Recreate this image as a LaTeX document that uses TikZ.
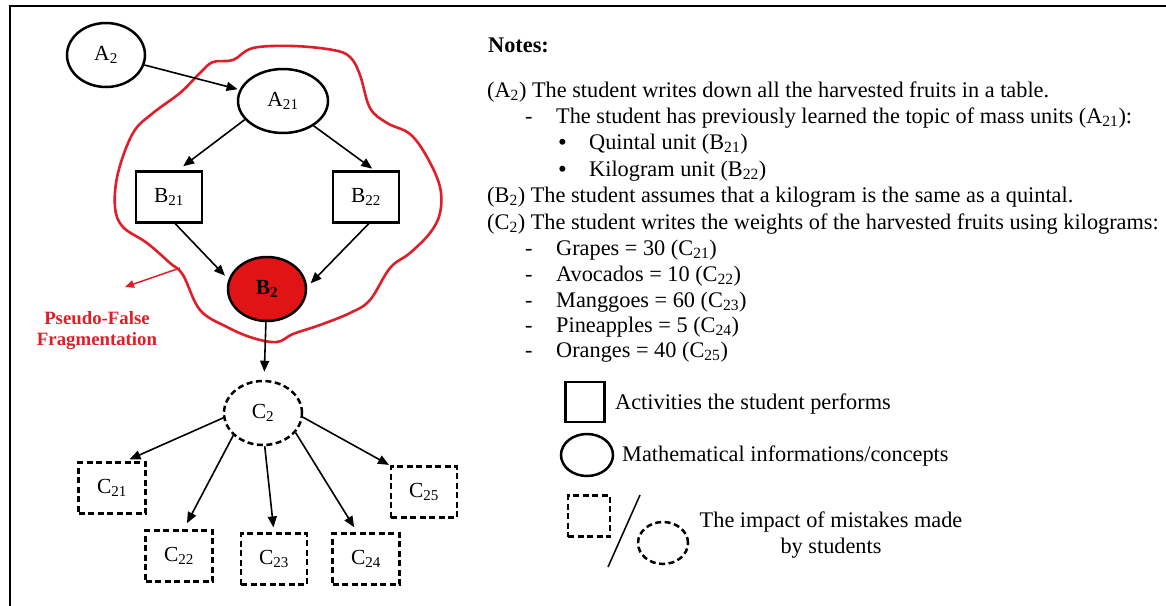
\documentclass[tikz,border=0pt]{standalone}
\usepackage{fontspec}
\setmainfont{Liberation Serif}
\usetikzlibrary{arrows.meta,shapes.geometric}
\definecolor{myred}{RGB}{224,20,20}
\definecolor{cloudred}{RGB}{222,30,40}
\newcommand\sbs[1]{\textsubscript{#1}}
\begin{document}
\begin{tikzpicture}[x=1pt,y=-1pt,
  every node/.style={font=\fontsize{21.5}{24}\selectfont},
  oval/.style={ellipse, draw, line width=2.5pt, minimum width=78pt, minimum height=64pt, inner sep=0pt},
  box/.style={rectangle, draw, line width=2.2pt, minimum width=66pt, minimum height=51pt, inner sep=0pt},
  dbox/.style={box, dash pattern=on 6pt off 3.5pt},
  doval/.style={oval, dash pattern=on 6pt off 3.5pt},
  arr/.style={-{Triangle[length=11pt,width=9pt]}, line width=1.6pt, shorten >=5pt},
  note/.style={anchor=base west, inner sep=0pt, font=\fontsize{22.3}{26}\selectfont},
  bul/.style={anchor=base west, inner sep=0pt, font=\fontsize{25}{26}\selectfont},
  redarr/.style={-{Triangle[length=9pt,width=7.5pt]}, line width=1.5pt, draw=cloudred}
]
\useasboundingbox (0,0) rectangle (1166,605);
% frame
\draw[line width=2pt] (1175,6) -- (10,6) -- (10,615);

% cloud
\draw[cloudred, line width=2.6pt] plot[smooth cycle, tension=0.6] coordinates {
 (213,62) (233,60) (253,48) (293,46) (333,50) (350,57) (360,75) (370,108) (387,123)
 (410,134) (427,157) (440,187) (440,213) (430,233) (410,253) (390,268) (370,300)
 (350,313) (320,325) (293,334) (277,342) (253,338) (227,327) (200,310) (183,275)
 (170,263) (147,243) (123,227) (115,207) (118,173) (133,133) (153,113) (180,93) (200,73)};

% nodes
\node[oval] (A2) at (106,55) {A\sbs{2}};
\node[oval, minimum width=90pt] (A21) at (283,101) {A\sbs{21}};
\node[box] (B21) at (169,197) {B\sbs{21}};
\node[box] (B22) at (366,197) {B\sbs{22}};
\node[oval, fill=myred] (B2) at (267,289) {\textbf{B\sbs{2}}};
\node[doval] (C2) at (263,413) {C\sbs{2}};
\node[dbox, minimum width=67pt] (C21) at (112,488) {C\sbs{21}};
\node[dbox, minimum width=67pt] (C22) at (179,556) {C\sbs{22}};
\node[dbox] (C23) at (274,559) {C\sbs{23}};
\node[dbox, minimum width=67pt] (C24) at (366,559) {C\sbs{24}};
\node[dbox] (C25) at (424,492) {C\sbs{25}};

% connectors
\draw[arr, shorten >=2pt] (A2) -- (A21);
\draw[arr, shorten >=7pt] (A21.206) -- (B21.72);
\draw[arr, shorten >=3pt] (A21.321) -- (B22.72);
\draw[arr] (B21.283) -- (B2.166);
\draw[arr] (B22.276) -- (B2.3);
\draw[arr, shorten >=8pt] (B2) -- (C2);
\draw[arr] (C2.187) -- (C21.64);
\draw[arr, shorten >=7pt] (C2.217) -- (C22.80);
\draw[arr] (C2.273) -- (C23.north);
\draw[arr, shorten >=6pt] (C2.329) -- (C24.108);
\draw[arr, shorten >=1pt] (C2.354) -- (C25.north west);

% pseudo-false label
\coordinate (cl) at (180,268);
\coordinate (pfa) at (125,287);
\draw[redarr] (cl) -- (pfa);
\node[font=\bfseries\fontsize{18.8}{21}\selectfont, text=cloudred, align=center] (pf) at (97,331) {Pseudo-False\\Fragmentation};

% notes
\node[note, font=\bfseries\fontsize{22.3}{26}\selectfont] (n0) at (488,52) {Notes:};
\node[note] (n1) at (487,97) {(A\sbs{2}) The student writes down all the harvested fruits in a table.};
\node[note] (d1) at (525,123) {-};
\node[note] (n2) at (556,123) {The student has previously learned the topic of mass units (A\sbs{21}):};
\node[bul] (b1) at (558,150) {•};
\node[note] (n3) at (589,149) {Quintal unit (B\sbs{21})};
\node[bul] (b2) at (558,177) {•};
\node[note] (n4) at (589,176) {Kilogram unit (B\sbs{22})};
\node[note] (n5) at (487,202) {(B\sbs{2}) The student assumes that a kilogram is the same as a quintal.};
\node[note] (n6) at (487,229) {(C\sbs{2}) The student writes the weights of the harvested fruits using kilograms:};
\node[note] (d2) at (525,255) {-};
\node[note] (n7) at (556,255) {Grapes = 30 (C\sbs{21})};
\node[note] (d3) at (525,281) {-};
\node[note] (n8) at (556,281) {Avocados = 10 (C\sbs{22})};
\node[note] (d4) at (525,307) {-};
\node[note] (n9) at (556,307) {Manggoes = 60 (C\sbs{23})};
\node[note] (d5) at (525,332) {-};
\node[note] (n10) at (556,332) {Pineapples = 5 (C\sbs{24})};
\node[note] (d6) at (525,357) {-};
\node[note] (n11) at (556,357) {Oranges = 40 (C\sbs{25})};

% legend
\node[box, minimum width=39pt, minimum height=40pt] (L1) at (585,402) {};
\node[note] (t1) at (615,409) {Activities the student performs};
\node[oval, minimum width=52pt, minimum height=42pt] (L2) at (587,455) {};
\node[note] (t2) at (622,461) {Mathematical informations/concepts};
\node[dbox, minimum width=42pt, minimum height=41pt] (L3) at (589,516) {};
\draw[line width=1.5pt] (640,495) -- (608,567);
\node[doval, minimum width=50pt, minimum height=42pt] (L4) at (663,543) {};
\node[align=center, font=\fontsize{22.3}{26}\selectfont] (t3) at (831,535) {The impact of mistakes made\\by students};
\end{tikzpicture}
\end{document}
